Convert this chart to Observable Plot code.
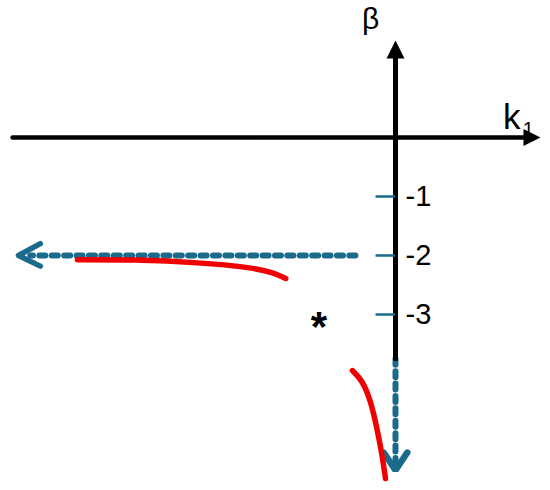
<!DOCTYPE html>
<html>
<head>
<meta charset="utf-8">
<script src="https://cdn.jsdelivr.net/npm/d3@7"></script>
<script src="https://cdn.jsdelivr.net/npm/@observablehq/plot@0.6"></script>
<style>
  html, body { margin: 0; padding: 0; background: #fff; }
  #chart svg { display: block; }
</style>
</head>
<body>
<div id="chart"></div>
<script>
// Red branch near β = -2 (k1, β)
const branch1K = [-5.39, -4.44, -3.31, -2.46, -2.07, -1.86];
const branch1B = [-2.07, -2.07, -2.12, -2.20, -2.29, -2.39];
// Red branch going down to -∞ (k1, β)
const branch2K = [-0.73, -0.56, -0.42, -0.305, -0.22, -0.17];
const branch2B = [-3.95, -4.12, -4.46, -4.97, -5.42, -5.78];
// tick values on β axis
const tickValues = [-1, -2, -3];
const tickLabels = ["-1", "-2", "-3"];
// asymptote arrows
const asymptoteBeta = -2;
const asymptoteK = 0;
// asterisk marker
const starK = [-1.30];
const starB = [-3.10];

const blue = "#1a6a8c";
const font = "Liberation Sans, Arial, sans-serif";

const toPts = (ks, bs) => ks.map((k, i) => ({k, b: bs[i]}));

const hAxis = [{k: -6.49, b: 0}, {k: 2.2, b: 0}];
const hHead = [{k: 2.458, b: 0}, {k: 2.169, b: 0.144}, {k: 2.169, b: -0.144}, {k: 2.458, b: 0}];
const vAxis = [{k: 0, b: -3.75}, {k: 0, b: 1.4}];
const vHead = [{k: 0, b: 1.644}, {k: -0.153, b: 1.339}, {k: 0.153, b: 1.339}, {k: 0, b: 1.644}];
const hDot = [{k: -0.68, b: asymptoteBeta}, {k: -6.19, b: asymptoteBeta}];
const hDotHead = [{k: -6.02, b: asymptoteBeta + 0.2}, {k: -6.39, b: asymptoteBeta}, {k: -6.02, b: asymptoteBeta - 0.18}];
const vDot = [{k: asymptoteK, b: -3.75}, {k: asymptoteK, b: -5.55}];
const vDotHead = [{k: -0.2, b: -5.34}, {k: 0, b: -5.64}, {k: 0.2, b: -5.34}];

const chart = Plot.plot({
  width: 550,
  height: 490,
  margin: 0,
  x: {domain: [-395/59, 155/59], axis: null},
  y: {domain: [-353/59, 137/59], axis: null},
  style: {fontFamily: font, background: "#fff"},
  marks: [
    // dotted asymptote arrows
    Plot.line(hDot, {x: "k", y: "b", stroke: blue, strokeWidth: 6, strokeDasharray: "6,6.4"}),
    Plot.line(hDotHead, {x: "k", y: "b", stroke: blue, strokeWidth: 5.5, strokeLinecap: "round", strokeLinejoin: "round"}),
    Plot.line(vDot, {x: "k", y: "b", stroke: blue, strokeWidth: 6, strokeDasharray: "6,6.4"}),
    Plot.line(vDotHead, {x: "k", y: "b", stroke: blue, strokeWidth: 6.5, strokeLinejoin: "miter"}),
    // axes
    Plot.line(hAxis, {x: "k", y: "b", stroke: "black", strokeWidth: 4.5}),
    Plot.line(hHead, {x: "k", y: "b", stroke: "none", fill: "black"}),
    Plot.line(vAxis, {x: "k", y: "b", stroke: "black", strokeWidth: 5}),
    Plot.line(vHead, {x: "k", y: "b", stroke: "none", fill: "black"}),
    // ticks
    Plot.ruleY(tickValues, {y: d => d, x1: -0.33, x2: 0, stroke: blue, strokeWidth: 2.5}),
    Plot.text(tickValues, {x: 0.17, y: d => d, text: (d, i) => tickLabels[i], textAnchor: "start", fontSize: 29, fill: "black"}),
    // red branches
    Plot.line(toPts(branch1K, branch1B), {x: "k", y: "b", curve: "basis", stroke: "#f00000", strokeWidth: 5.5, strokeLinecap: "round"}),
    Plot.line(toPts(branch2K, branch2B), {x: "k", y: "b", curve: "basis", stroke: "#f00000", strokeWidth: 5.5, strokeLinecap: "round"}),
    // asterisk
    Plot.text(starK, {x: d => d, y: (d, i) => starB[i], text: () => "*", fontSize: 42, fontWeight: "bold", fill: "black", dy: 7}),
    // axis labels
    Plot.text(["β"], {x: -0.42, y: 2.0, text: d => d, fontSize: 30, fill: "black"}),
    Plot.text(["k"], {x: 1.97, y: 0.33, text: d => d, fontSize: 35, fill: "black"}),
    Plot.text(["1"], {x: 2.25, y: 0.14, text: d => d, fontSize: 20, fill: "black"})
  ]
});
document.getElementById("chart").appendChild(chart);
</script>
</body>
</html>
